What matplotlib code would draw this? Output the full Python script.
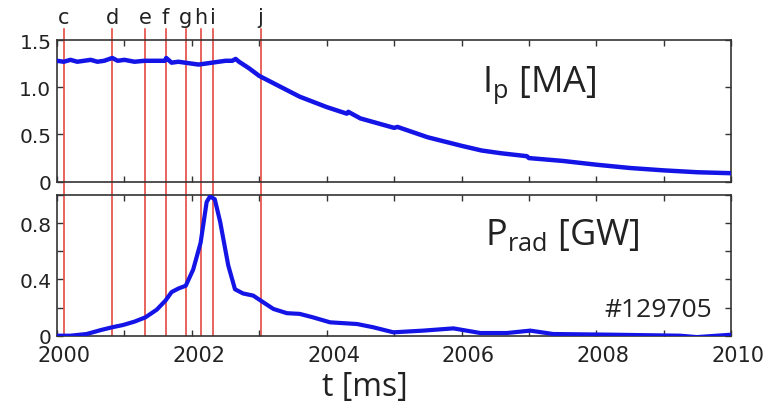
import matplotlib
matplotlib.use("Agg")
import matplotlib.pyplot as plt
import matplotlib.transforms as mtransforms

plt.rcParams["mathtext.fontset"] = "custom"
plt.rcParams["mathtext.rm"] = "Open Sans"
plt.rcParams["mathtext.it"] = "Open Sans"

# plasma current I_p [MA]
ip_t = [2000.0, 2000.1, 2000.2, 2000.3, 2000.4, 2000.5, 2000.6, 2000.7, 2000.82, 2000.9,
        2001.0, 2001.15, 2001.3, 2001.45, 2001.6, 2001.62, 2001.7, 2001.8, 2001.9, 2002.0,
        2002.1, 2002.2, 2002.3, 2002.4, 2002.5, 2002.6, 2002.65, 2002.7, 2002.85, 2003.0,
        2003.3, 2003.6, 2004.0, 2004.3, 2004.32, 2004.5, 2005.0, 2005.05, 2005.5, 2006.0,
        2006.3, 2006.6, 2006.97, 2007.0, 2007.5, 2008.0, 2008.5, 2009.0, 2009.5, 2010.0]
ip_val = [1.28, 1.27, 1.29, 1.27, 1.28, 1.29, 1.27, 1.28, 1.31, 1.28,
          1.29, 1.27, 1.28, 1.28, 1.28, 1.31, 1.26, 1.27, 1.26, 1.25,
          1.24, 1.25, 1.26, 1.27, 1.28, 1.28, 1.30, 1.27, 1.20, 1.12,
          1.01, 0.90, 0.79, 0.72, 0.74, 0.67, 0.57, 0.58, 0.47, 0.38,
          0.33, 0.30, 0.27, 0.25, 0.22, 0.18, 0.145, 0.12, 0.10, 0.09]

# radiated power P_rad [GW]
pr_t = [2000.0, 2000.2, 2000.44, 2000.65, 2000.82, 2000.98, 2001.15, 2001.31, 2001.48, 2001.61,
        2001.70, 2001.80, 2001.91, 2002.02, 2002.13, 2002.22, 2002.27, 2002.34, 2002.42, 2002.54,
        2002.64, 2002.76, 2002.91, 2003.02, 2003.21, 2003.41, 2003.6, 2003.80, 2004.05, 2004.45,
        2004.69, 2004.99, 2005.43, 2005.88, 2006.28, 2006.67, 2007.02, 2007.36, 2008.25, 2009.24,
        2009.49, 2010.0]
pr_val = [0.0, 0.0, 0.012, 0.04, 0.06, 0.076, 0.10, 0.13, 0.185, 0.25,
          0.31, 0.335, 0.355, 0.47, 0.66, 0.95, 0.99, 0.97, 0.81, 0.50,
          0.33, 0.30, 0.285, 0.25, 0.19, 0.16, 0.155, 0.13, 0.095, 0.083,
          0.06, 0.024, 0.036, 0.052, 0.019, 0.019, 0.036, 0.012, 0.007, 0.0,
          -0.01, 0.007]

# event markers
ev_t = [2000.10, 2000.82, 2001.31, 2001.61, 2001.91, 2002.13, 2002.32, 2003.02]
ev_lab = ["c", "d", "e", "f", "g", "h", "i", "j"]

x_ticks = list(range(2000, 2011))
x_labels = [str(v) if v % 2 == 0 else "" for v in x_ticks]

blue = "#1414e6"
red = "#e23a32"
txt = "#222222"

fig = plt.figure(figsize=(7.67, 4.06), dpi=100)
ax1 = fig.add_axes([0.0743, 0.550, 0.879, 0.349])
ax2 = fig.add_axes([0.0743, 0.1707, 0.879, 0.3466])

for ax in (ax1, ax2):
    ax.set_xlim(2000, 2010)
    ax.set_xticks(x_ticks)
    ax.tick_params(direction="in", top=True, right=True, length=4, width=1,
                   colors="#333333", labelcolor=txt, labelsize=15)
    for s in ax.spines.values():
        s.set_color("#333333")
        s.set_linewidth(1.2)

# top panel
ax1.plot(ip_t, ip_val, color=blue, lw=3.2, zorder=3)
ax1.set_ylim(0, 1.5)
ax1.set_yticks([0, 0.5, 1.0, 1.5])
ax1.set_yticklabels(["0", "0.5", "1.0", "1.5"])
ax1.tick_params(axis="y", labelsize=14.5, pad=4)
ax1.set_xticklabels([])
for t, lab in zip(ev_t, ev_lab):
    ax1.axvline(t, ymin=-0.094, ymax=1.079, color=red, lw=1.1, clip_on=False, zorder=2)
    ax1.text(t, 1.12, lab, transform=ax1.get_xaxis_transform(), ha="center",
             va="baseline", fontsize=15, color=txt)
ax1.text(0.63, 0.64, r"$\mathrm{I_p}$ [MA]", transform=ax1.transAxes, ha="left",
         va="baseline", fontsize=26, family="Open Sans", color=txt)

# bottom panel
ax2.plot(pr_t, pr_val, color=blue, lw=3.0, zorder=3)
ax2.set_ylim(0, 1.0)
ax2.set_yticks([0, 0.2, 0.4, 0.6, 0.8, 1.0])
ax2.set_yticklabels(["0", "", "0.4", "", "0.8", ""])
ax2.tick_params(axis="y", labelsize=14.5, pad=4)
ax2.tick_params(axis="x", labelsize=15, pad=7)
ax2.set_xticklabels(x_labels)
for lbl in ax2.get_xticklabels():
    lbl.set_transform(lbl.get_transform() +
                      mtransforms.ScaledTranslation(0.07, 0, fig.dpi_scale_trans))
for t in ev_t:
    ax2.axvline(t, color=red, lw=1.1, zorder=2)
ax2.text(0.635, 0.652, r"$\mathrm{P_{rad}}$ [GW]", transform=ax2.transAxes, ha="left",
         va="baseline", fontsize=26, family="Open Sans", color=txt)
ax2.text(0.971, 0.142, "#129705", transform=ax2.transAxes, ha="right",
         va="baseline", fontsize=19, family="Open Sans", color=txt)

fig.text(365 / 767, 1 - 388 / 406, "t [ms]", ha="center", va="center",
         fontsize=23, family="Open Sans", color=txt)

fig.savefig("out.png", dpi=100)
